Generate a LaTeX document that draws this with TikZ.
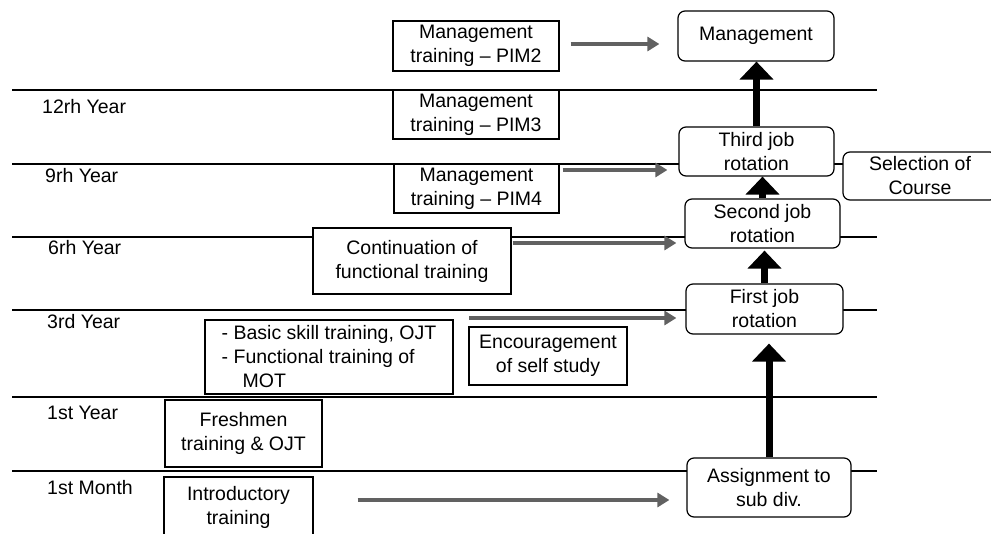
\documentclass[tikz,border=0pt]{standalone}
\usepackage{fontspec}
\setmainfont{Liberation Sans}
\usetikzlibrary{arrows.meta}
\begin{document}
\begin{tikzpicture}[x=1pt,y=-1pt,
  every node/.style={font=\fontsize{19.5}{24}\selectfont},
  sqbox/.style={draw, line width=1.2pt, fill=white, inner sep=0pt, align=center},
  rbox/.style={sqbox, rounded corners=7pt},
  yearline/.style={line width=1.5pt},
  yearlabel/.style={anchor=west, inner sep=0pt},
  garrow/.style={draw=black!62, line width=4.5pt, -{Triangle[length=12pt,width=14pt]}},
  barrow/.style={line width=7pt, -{Triangle[length=18pt,width=33pt]}},
]
\useasboundingbox (0,0) rectangle (991,534);

% year lines
\draw[yearline] (12,90) -- (877,90);
\draw[yearline] (12,164) -- (843,164);
\draw[yearline] (12,237) -- (877,237);
\draw[yearline] (12,310) -- (877,310);
\draw[yearline] (12,397) -- (877,397);
\draw[yearline] (12,471) -- (877,471);

% year labels
\node[yearlabel] (l12) at (42,107) {12rh Year};
\node[yearlabel] (l9) at (45,176) {9rh Year};
\node[yearlabel] (l6) at (48,248) {6rh Year};
\node[yearlabel] (l3) at (47,322) {3rd Year};
\node[yearlabel] (l1) at (47,413) {1st Year};
\node[yearlabel] (lm) at (47,488) {1st Month};

% training boxes
\node[sqbox, minimum width=166pt, minimum height=50pt] (pim2) at (476,46) {Management\\training – PIM2};
\node[sqbox, minimum width=166pt, minimum height=49pt] (pim3) at (476,114.5) {Management\\training – PIM3};
\node[sqbox, minimum width=165pt, minimum height=49pt] (pim4) at (476.5,188.5) {Management\\training – PIM4};
\node[sqbox, minimum width=198pt, minimum height=66pt] (cont) at (412,261) {Continuation of\\functional training};
\node[sqbox, align=left, minimum width=248pt, minimum height=74pt] (basic) at (329,357) {- Basic skill training, OJT\\- Functional training of\\\hspace*{21pt}MOT};
\node[sqbox, minimum width=158pt, minimum height=58pt] (enc) at (548,356) {Encouragement\\of self study};
\node[sqbox, minimum width=157pt, minimum height=67pt] (fresh) at (243.5,433.5) {Freshmen\\training \& OJT};
\node[sqbox, minimum width=149pt, minimum height=60pt] (intro) at (238.5,507) {Introductory\\training};

% career boxes
\node[rbox, minimum width=156pt, minimum height=50pt] (mgmt) at (756,36) {Management};
\node[rbox, minimum width=155pt, minimum height=49pt] (third) at (756.5,151.5) {Third job\\rotation};
\node[rbox, minimum width=155pt, minimum height=49pt] (second) at (762.5,223.5) {Second job\\rotation};
\node[rbox, minimum width=157pt, minimum height=50pt] (first) at (764.5,309) {First job\\rotation};
\node[rbox, minimum width=164pt, minimum height=59pt] (assign) at (769,487.5) {Assignment to\\sub div.};
\node[rbox, minimum width=154pt, minimum height=48pt] (sel) at (920,176) {Selection of\\Course};

% black arrows
\draw[barrow] (third.north) -- (third.north |- mgmt.south);
\draw[barrow] (second.north) -- (second.north |- third.south);
\draw[barrow, shorten >=2pt] (first.north) -- (first.north |- second.south);
\draw[barrow, shorten >=9pt] (assign.north) -- (assign.north |- first.south);

% gray arrows
\coordinate (ga1) at (0,44);
\coordinate (ga2) at (0,170);
\coordinate (ga3) at (0,243);
\coordinate (ga4) at (0,318);
\coordinate (ga5) at (0,500);
\draw[garrow, shorten <=11pt, shorten >=18pt] (pim2.east |- ga1) -- (mgmt.west |- ga1);
\draw[garrow, shorten <=3pt, shorten >=11pt] (pim4.east |- ga2) -- (third.west |- ga2);
\draw[garrow, shorten <=1pt, shorten >=8pt] (cont.east |- ga3) -- (second.west |- ga3);
\draw[garrow, shorten <=1pt, shorten >=9pt] (enc.west |- ga4) -- (first.west |- ga4);
\draw[garrow, shorten <=44pt, shorten >=17pt] (intro.east |- ga5) -- (assign.west |- ga5);
\end{tikzpicture}
\end{document}
